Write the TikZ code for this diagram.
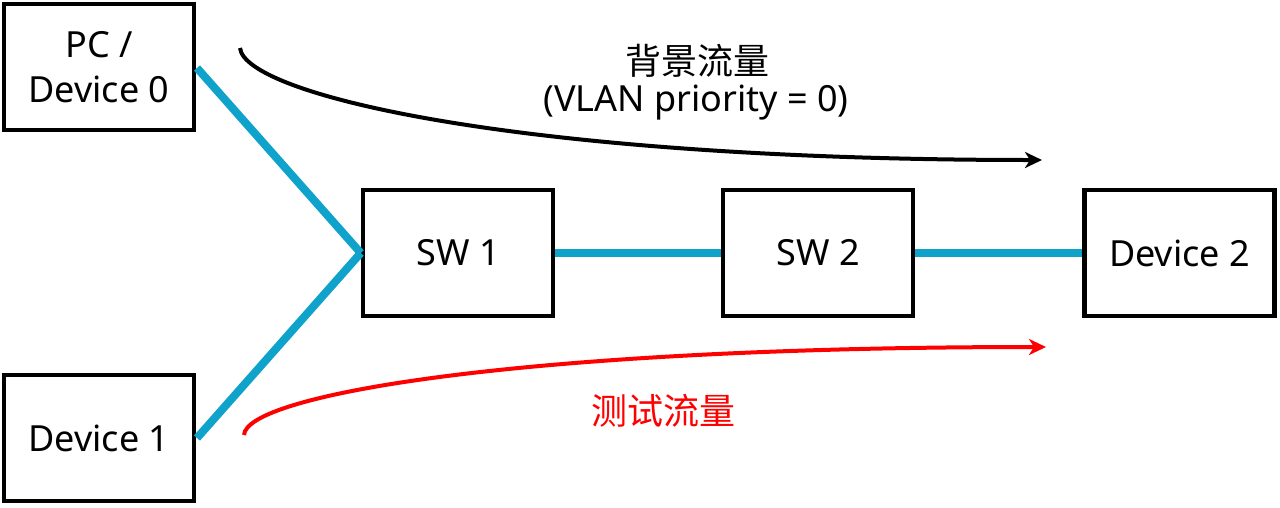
\documentclass[tikz,border=0pt]{standalone}
\usepackage{fontspec}
\setmainfont{Noto Sans}
\newfontfamily\cjk{Noto Sans CJK SC}
\usetikzlibrary{arrows.meta}
\definecolor{linkblue}{HTML}{0FA3CC}
\definecolor{testred}{HTML}{FF0000}
\tikzset{
  devbox/.style={draw=black, line width=4.5pt, fill=white, minimum width=190pt, minimum height=126pt, inner sep=0pt, align=center, font=\fontsize{36}{45}\selectfont},
  link/.style={draw=linkblue, line width=8pt},
  flow/.style={line width=4pt, -{Stealth[length=17pt,width=16pt,inset=5pt]}},
}
\begin{document}
\begin{tikzpicture}[x=1pt,y=-1pt]
\useasboundingbox (0,0) rectangle (1280,507);
\node[devbox] (pc) at (99,67) {PC /\\Device 0};
\node[devbox] (d1) at (99,438) {Device 1};
\node[devbox] (sw1) at (458,253) {SW 1};
\node[devbox] (sw2) at (818,253) {SW 2};
\node[devbox] (d2) at (1179.5,253) {Device 2};
\coordinate (pcout) at (197,68);
\coordinate (d1out) at (197,438);
\draw[link] (pcout) -- (sw1.west);
\draw[link] (d1out) -- (sw1.west);
\draw[link] (sw1.east) -- (sw2.west);
\draw[link] (sw2.east) -- (d2.west);
\coordinate (bs) at (240,48);
\coordinate (be) at (1042,160);
\coordinate (rs) at (244,435);
\coordinate (re) at (1046,347);
\draw[flow, black] (bs) .. controls (245,95) and (520,160) .. (be);
\draw[flow, testred] (rs) .. controls (246,395) and (520,347) .. (re);
\node[font=\fontsize{36}{45}\selectfont\cjk, anchor=center] (bgt) at (697,61) {背景流量};
\node[font=\fontsize{36}{45}\selectfont, anchor=center] (bgp) at (696,103) {(VLAN priority = 0)};
\node[font=\fontsize{36}{45}\selectfont\cjk, text=testred, anchor=center] (tt) at (663,411) {测试流量};
\end{tikzpicture}
\end{document}
